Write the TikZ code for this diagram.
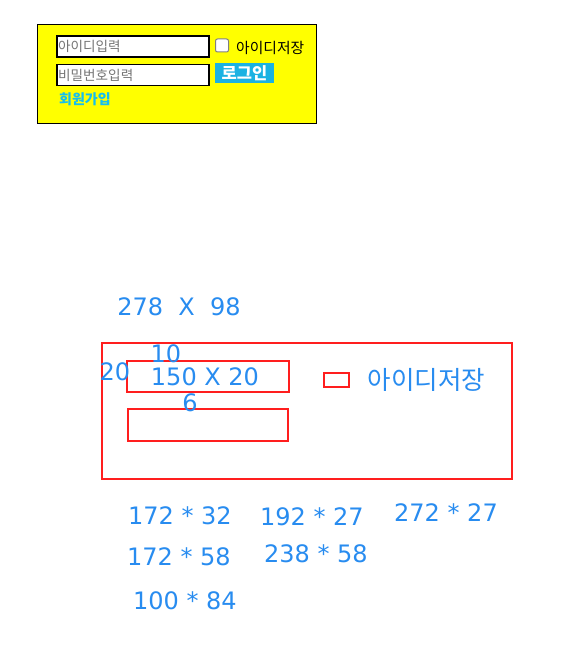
\documentclass[tikz,border=0pt]{standalone}
\usepackage{fontspec}
\setmainfont{DejaVu Sans}
\newfontfamily\kr{Noto Sans CJK KR}
\definecolor{lblue}{RGB}{40,140,240}
\definecolor{rred}{RGB}{255,30,30}
\definecolor{btn}{RGB}{27,178,226}
\definecolor{sky}{RGB}{20,190,240}
\definecolor{ph}{RGB}{117,117,117}
\definecolor{yel}{RGB}{255,255,0}
\tikzset{
  dim/.style={text=lblue, inner sep=0pt, font=\fontsize{24}{28}\selectfont},
  redbox/.style={draw=rred, line width=2pt},
  inputbox/.style={draw=black, line width=1.5pt, fill=white},
  small/.style={inner sep=0pt, font=\kr\fontsize{13.6}{15}\selectfont}
}
\begin{document}
\begin{tikzpicture}[x=1pt,y=-1pt]
\useasboundingbox[fill=white] (0,0) rectangle (579,671);
% top form
\node[draw=black, line width=1pt, fill=yel, minimum width=279pt, minimum height=99pt, inner sep=0pt] (form) at (176.5,74.5) {};
\node[inputbox, minimum width=152pt, minimum height=21pt, inner sep=0pt] (id) at (133,46.5) {};
\node[inputbox, minimum width=152pt, minimum height=21pt, inner sep=0pt] (pw) at (133,75) {};
\node[small, text=ph, anchor=west] (idt) at (58,46.5) {아이디입력};
\node[small, text=ph, anchor=west] (pwt) at (58,75) {비밀번호입력};
\node[draw=gray, fill=white, line width=1pt, rounded corners=2pt, minimum width=13pt, minimum height=13pt, inner sep=0pt] (chk) at (222,45.5) {};
\node[inner sep=0pt, font=\kr\fontsize{14.8}{16}\selectfont, anchor=west] (chkt) at (236,48) {아이디저장};
\node[fill=btn, minimum width=59pt, minimum height=20pt, inner sep=0pt] (login) at (244.5,73) {};
\node[inner sep=0pt, text=white, font=\kr\bfseries\fontsize{16.5}{18}\selectfont] (logint) at (244.5,73) {로그인};
\node[inner sep=0pt, text=sky, font=\kr\bfseries\fontsize{14}{16}\selectfont, anchor=west] (join) at (59,99) {회원가입};
% sketch
\node[dim, anchor=base] (d1) at (179,315) {278\ \ X\ \ 98};
\node[redbox, minimum width=410pt, minimum height=136pt, inner sep=0pt] (outer) at (307,411) {};
\node[redbox, minimum width=162pt, minimum height=31pt, inner sep=0pt] (in1) at (208,376.5) {};
\node[redbox, minimum width=160pt, minimum height=32pt, inner sep=0pt] (in2) at (208,425) {};
\node[redbox, minimum width=25pt, minimum height=14pt, inner sep=0pt] (cb) at (336.5,380) {};
\node[dim, anchor=base] (d10) at (166,362) {10};
\node[dim, anchor=base] (d20) at (115,380) {20};
\node[dim, anchor=base] (d150) at (205,385) {150 X 20};
\node[dim, anchor=base] (d6) at (190,411) {6};
\node[dim, font=\kr\fontsize{25.5}{28}\selectfont] (cbt) at (426.5,380) {아이디저장};
\node[dim, anchor=base] (a1) at (180,524) {172 * 32};
\node[dim, anchor=base] (a2) at (312,525) {192 * 27};
\node[dim, anchor=base] (a3) at (446,521) {272 * 27};
\node[dim, anchor=base] (a4) at (179,565) {172 * 58};
\node[dim, anchor=base] (a5) at (316,562) {238 * 58};
\node[dim, anchor=base] (a6) at (185,609) {100 * 84};
\end{tikzpicture}
\end{document}
